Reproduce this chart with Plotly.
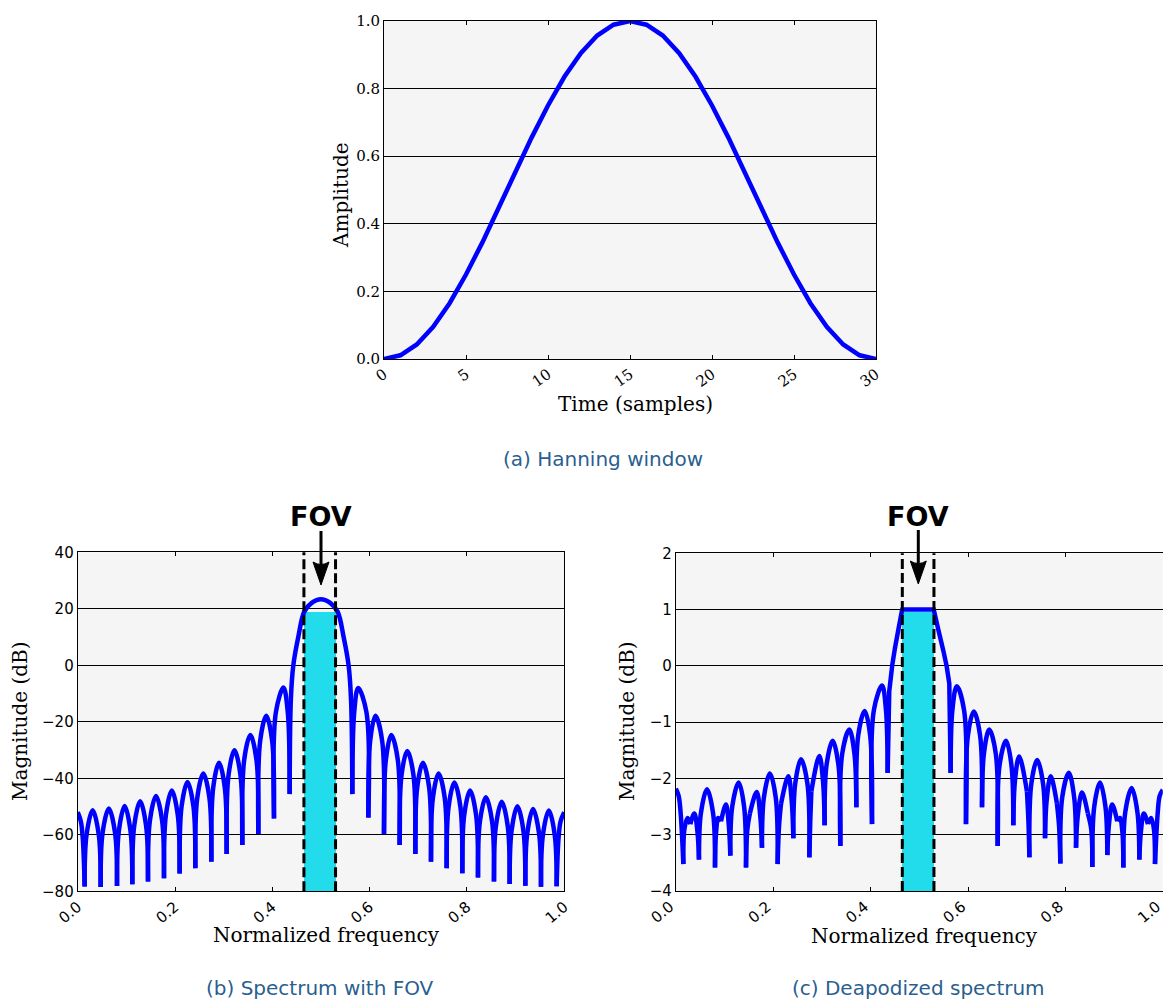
import plotly.graph_objects as go

W, H = 1163, 1003

# ---------------------------------------------------------------- data
# (a) Hanning window, 31 samples
win_n = list(range(31))
win_amp = [0.0, 0.011, 0.043, 0.095, 0.165, 0.25, 0.345, 0.448, 0.552, 0.655,
           0.75, 0.835, 0.905, 0.957, 0.989, 1.0, 0.989, 0.957, 0.905, 0.835,
           0.75, 0.655, 0.552, 0.448, 0.345, 0.25, 0.165, 0.095, 0.043, 0.011, 0.0]

# (b) spectrum in dB; each lobe runs null -> shoulder -> peak -> shoulder -> null,
# lobes separated by None so the nulls stay sharp
spec_freq = [
    0.0, 0.0065, 0.0105, 0.0143, None,
    0.0143, 0.0182, 0.0308, 0.0433, 0.0472, None,
    0.0472, 0.0511, 0.0640, 0.0769, 0.0808, None,
    0.0808, 0.0847, 0.0965, 0.1084, 0.1123, None,
    0.1123, 0.1162, 0.1284, 0.1406, 0.1445, None,
    0.1445, 0.1484, 0.1610, 0.1735, 0.1774, None,
    0.1774, 0.1813, 0.1935, 0.2057, 0.2096, None,
    0.2096, 0.2135, 0.2257, 0.2379, 0.2418, None,
    0.2418, 0.2457, 0.2582, 0.2708, 0.2747, None,
    0.2747, 0.2786, 0.2905, 0.3023, 0.3062, None,
    0.3062, 0.3101, 0.3223, 0.3345, 0.3384, None,
    0.3384, 0.3423, 0.3550, 0.3674, 0.3713, None,
    0.3713, 0.3752, 0.3877, 0.3996, 0.4035, None,
    0.4035, 0.4074, 0.4230, 0.4318, 0.4357, None,
    0.4357, 0.4382, 0.4432, 0.4535, 0.4658, 0.4810, 0.5000,
    0.5190, 0.5342, 0.5465, 0.5568, 0.5618, 0.5645, None,
    0.5645, 0.5684, 0.5765, 0.5935, 0.5974, None,
    0.5974, 0.6013, 0.6120, 0.6257, 0.6296, None,
    0.6296, 0.6335, 0.6445, 0.6579, 0.6618, None,
    0.6618, 0.6657, 0.6775, 0.6901, 0.6940, None,
    0.6940, 0.6979, 0.7095, 0.7223, 0.7262, None,
    0.7262, 0.7301, 0.7418, 0.7545, 0.7584, None,
    0.7584, 0.7623, 0.7743, 0.7867, 0.7906, None,
    0.7906, 0.7945, 0.8065, 0.8189, 0.8228, None,
    0.8228, 0.8267, 0.8390, 0.8518, 0.8557, None,
    0.8557, 0.8596, 0.8716, 0.8840, 0.8879, None,
    0.8879, 0.8918, 0.9038, 0.9162, 0.9201, None,
    0.9201, 0.9240, 0.9360, 0.9484, 0.9523, None,
    0.9523, 0.9562, 0.9685, 0.9806, 0.9845, None,
    0.9845, 0.9883, 0.9925, 1.0,
]
spec_db = [
    -52.0, -55.3, -61.4, -78.3, None,
    -78.3, -60.0, -51.3, -60.0, -78.5, None,
    -78.5, -59.4, -50.7, -59.4, -78.1, None,
    -78.1, -58.5, -49.8, -58.5, -77.5, None,
    -77.5, -56.8, -48.1, -56.8, -76.5, None,
    -76.5, -55.0, -46.3, -55.0, -75.4, None,
    -75.4, -53.0, -44.3, -53.0, -73.7, None,
    -73.7, -50.0, -41.3, -50.0, -71.8, None,
    -71.8, -47.0, -38.3, -47.0, -69.5, None,
    -69.5, -43.2, -34.5, -43.2, -66.8, None,
    -66.8, -38.8, -30.1, -38.8, -63.6, None,
    -63.6, -33.4, -24.7, -33.4, -59.7, None,
    -59.7, -26.6, -17.9, -26.6, -54.2, None,
    -54.2, -16.6, -7.9, -16.6, -45.6, None,
    -45.6, -12.0, 0.0, 10.1, 19.0, 22.1, 23.4,
    22.1, 19.0, 10.1, 0.0, -12.0, -45.6, None,
    -45.6, -16.6, -8.0, -16.6, -53.9, None,
    -53.9, -26.6, -17.9, -26.6, -59.7, None,
    -59.7, -33.4, -24.7, -33.4, -63.6, None,
    -63.6, -38.8, -30.3, -38.8, -66.8, None,
    -66.8, -43.2, -34.5, -43.2, -69.5, None,
    -69.5, -47.0, -38.3, -47.0, -71.8, None,
    -71.8, -50.2, -41.5, -50.2, -73.6, None,
    -73.6, -53.0, -44.3, -53.0, -75.1, None,
    -75.1, -55.4, -46.7, -55.4, -76.5, None,
    -76.5, -57.0, -48.3, -57.0, -77.4, None,
    -77.4, -58.6, -49.9, -58.6, -78.0, None,
    -78.0, -59.6, -50.9, -59.6, -78.4, None,
    -78.4, -60.1, -51.4, -60.1, -78.2, None,
    -78.2, -61.4, -55.3, -52.0,
]

# (c) deapodized spectrum: side lobes (spline pieces) ...
deap_freq = [
    0.0, 0.0057, 0.0098, 0.0153, None,
    0.0153, 0.0178, 0.0242, 0.0296, None,
    0.0296, 0.0379, 0.0443, 0.0474, None,
    0.0474, 0.0513, 0.0639, 0.0764, 0.0803, None,
    0.0803, 0.0826, 0.0870, 0.0926, None,
    0.0926, 0.1029, 0.1088, 0.1118, None,
    0.1118, 0.1157, 0.1289, 0.1401, 0.1440, None,
    0.1440, 0.1468, 0.1520, None,
    0.1520, 0.1660, 0.1733, 0.1768, None,
    0.1768, 0.1807, 0.1930, 0.2051, 0.2090, None,
    0.2090, 0.2118, 0.2159, None,
    0.2159, 0.2309, 0.2378, 0.2412, None,
    0.2412, 0.2451, 0.2569, 0.2701, 0.2740, None,
    0.2740, 0.2760, 0.2782, None,
    0.2782, 0.2946, 0.3020, 0.3055, None,
    0.3055, 0.3094, 0.3220, 0.3338, 0.3377, None,
    0.3377, 0.3416, 0.3562, 0.3667, 0.3706, None,
    0.3706, 0.3745, 0.3877, 0.3989, 0.4028, None,
    0.4028, 0.4067, 0.4235, 0.4314, 0.4349, None,
    0.5643, 0.5678, 0.5768, 0.5919, 0.5958, None,
    0.5958, 0.5997, 0.6120, 0.6248, 0.6287, None,
    0.6287, 0.6326, 0.6435, 0.6570, 0.6609, None,
    0.6609, 0.6648, 0.6780, 0.6891, 0.6930, None,
    0.6930, 0.6965, 0.7050, 0.7210, None,
    0.7210, 0.7240, 0.7260, None,
    0.7260, 0.7299, 0.7420, 0.7542, 0.7581, None,
    0.7581, 0.7615, 0.7697, 0.7825, None,
    0.7825, 0.7870, 0.7896, None,
    0.7896, 0.7935, 0.8070, 0.8179, 0.8218, None,
    0.8218, 0.8253, 0.8340, 0.8460, None,
    0.8460, 0.8530, 0.8553, None,
    0.8553, 0.8592, 0.8711, 0.8822, 0.8861, None,
    0.8861, 0.8891, 0.8960, 0.9065, None,
    0.9065, 0.9120, 0.9170, 0.9190, None,
    0.9190, 0.9229, 0.9361, 0.9479, 0.9518, None,
    0.9518, 0.9550, 0.9610, 0.9695, None,
    0.9695, 0.9758, 0.9815, 0.9840, None,
    0.9840, 0.9895, 0.9936, 1.0,
]
deap_db = [
    -2.18, -2.31, -2.62, -3.52, None,
    -3.52, -2.88, -2.70, -2.81, None,
    -2.81, -2.62, -2.95, -3.44, None,
    -3.44, -2.62, -2.19, -2.62, -3.58, None,
    -3.58, -2.95, -2.70, -2.76, None,
    -2.76, -2.46, -2.85, -3.37, None,
    -3.37, -2.50, -2.07, -2.50, -3.58, None,
    -3.58, -2.90, -2.62, None,
    -2.62, -2.24, -2.67, -3.23, None,
    -3.23, -2.34, -1.91, -2.34, -3.52, None,
    -3.52, -2.85, -2.45, None,
    -2.45, -1.96, -2.39, -3.06, None,
    -3.06, -2.09, -1.66, -2.09, -3.40, None,
    -3.40, -2.75, -2.23, None,
    -2.23, -1.60, -2.03, -2.83, None,
    -2.83, -1.76, -1.33, -1.76, -3.20, None,
    -3.20, -1.56, -1.13, -1.56, -2.51, None,
    -2.51, -1.23, -0.80, -1.23, -2.81, None,
    -2.81, -0.78, -0.35, -0.78, -1.90, None,
    -1.90, -0.79, -0.36, -0.79, -2.81, None,
    -2.81, -1.24, -0.81, -1.24, -2.51, None,
    -2.51, -1.56, -1.13, -1.56, -3.20, None,
    -3.20, -1.76, -1.33, -1.76, -2.83, None,
    -2.83, -2.03, -1.61, -2.23, None,
    -2.23, -2.75, -3.40, None,
    -3.40, -2.10, -1.67, -2.10, -3.06, None,
    -3.06, -2.39, -1.96, -2.44, None,
    -2.44, -2.85, -3.51, None,
    -3.51, -2.33, -1.90, -2.33, -3.23, None,
    -3.23, -2.67, -2.25, -2.62, None,
    -2.62, -2.90, -3.57, None,
    -3.57, -2.50, -2.07, -2.50, -3.36, None,
    -3.36, -2.85, -2.46, -2.76, None,
    -2.76, -2.70, -2.95, -3.58, None,
    -3.58, -2.60, -2.17, -2.60, -3.44, None,
    -3.44, -2.95, -2.62, -2.81, None,
    -2.81, -2.70, -2.88, -3.52, None,
    -3.52, -2.62, -2.31, -2.20,
]
# ... and the clipped main lobe (straight pieces)
deap_main_freq = [0.4349, 0.4382, 0.4415, 0.4445, 0.4500, 0.4568, 0.4640, 0.4650,
                  0.5295, 0.5390, 0.5490, 0.5560, 0.5615, 0.5643]
deap_main_db = [-1.90, -0.45, -0.20, 0.02, 0.32, 0.64, 0.97, 1.0,
                1.0, 0.64, 0.28, 0.0, -0.31, -1.90]

# field of view band
fov_lo, fov_hi = 0.465, 0.530
fov_fill_db = 18.6      # top of the shaded band in (b)
fov_fill_deap = 0.945   # top of the shaded band in (c)

win_xticks = [0, 5, 10, 15, 20, 25, 30]
win_yticks = [0.0, 0.2, 0.4, 0.6, 0.8, 1.0]
freq_ticks = [0.0, 0.2, 0.4, 0.6, 0.8, 1.0]
db_ticks = [-80, -60, -40, -20, 0, 20, 40]
deap_ticks = [-4, -3, -2, -1, 0, 1, 2]

# ---------------------------------------------------------------- styling
BLUE = "#0000ff"
CYAN = "#22dcec"
BG = "#f5f5f5"
SERIF = "DejaVu Serif"
SANS = "DejaVu Sans"
CAPTION = "#2a5f8f"
LW = 4.5


def px_x(p):
    return p / W


def px_y(p):
    return 1 - p / H


fig = go.Figure()

fig.add_trace(go.Scatter(x=win_n, y=win_amp, mode="lines",
                         line=dict(color=BLUE, width=LW), xaxis="x", yaxis="y"))

fig.add_trace(go.Bar(x=[(fov_lo + fov_hi) / 2], y=[fov_fill_db + 80], base=[-80],
                     width=[fov_hi - fov_lo], marker=dict(color=CYAN, line=dict(width=0)),
                     xaxis="x2", yaxis="y2"))
fig.add_trace(go.Scatter(x=spec_freq, y=spec_db, mode="lines", connectgaps=False,
                         line=dict(color=BLUE, width=LW, shape="spline", smoothing=1.0,
                                   simplify=False),
                         xaxis="x2", yaxis="y2"))

fig.add_trace(go.Bar(x=[(fov_lo + fov_hi) / 2], y=[fov_fill_deap + 4], base=[-4],
                     width=[fov_hi - fov_lo], marker=dict(color=CYAN, line=dict(width=0)),
                     xaxis="x3", yaxis="y3"))
fig.add_trace(go.Scatter(x=deap_freq, y=deap_db, mode="lines", connectgaps=False,
                         line=dict(color=BLUE, width=LW, shape="spline", smoothing=1.0,
                                   simplify=False),
                         xaxis="x3", yaxis="y3"))
fig.add_trace(go.Scatter(x=deap_main_freq, y=deap_main_db, mode="lines",
                         line=dict(color=BLUE, width=LW, simplify=False),
                         xaxis="x3", yaxis="y3"))

frame = dict(showline=True, linecolor="black", linewidth=1, mirror="ticks",
             ticks="inside", ticklen=4, tickcolor="black", tickwidth=1,
             zeroline=False, fixedrange=True, automargin=False,
             ticklabeloverflow="allow")
grid = dict(showgrid=True, gridcolor="black", gridwidth=1)

layout = dict(
    width=W, height=H, margin=dict(l=0, r=0, t=0, b=0, autoexpand=False),
    paper_bgcolor="white", plot_bgcolor=BG, showlegend=False, bargap=0,
    xaxis=dict(frame, domain=[px_x(384), px_x(876)], range=[0, 30], anchor="y",
               tickvals=win_xticks, tickangle=-35, showgrid=False,
               tickfont=dict(family=SERIF, size=15, color="black")),
    yaxis=dict(frame, **grid, domain=[px_y(359), px_y(21)], range=[0, 1], anchor="x",
               tickvals=win_yticks, ticktext=[f"{v:.1f}" for v in win_yticks],
               tickfont=dict(family=SERIF, size=15, color="black")),
    xaxis2=dict(frame, domain=[px_x(77.7), px_x(564.2)], range=[0, 1.00001], anchor="y2",
                tickvals=freq_ticks, ticktext=[f"{v:.1f}" for v in freq_ticks],
                tickangle=-40, showgrid=False,
                tickfont=dict(family=SANS, size=15, color="black")),
    yaxis2=dict(frame, **grid, domain=[px_y(891.3), px_y(552.3)], range=[-80, 40],
                anchor="x2", tickvals=db_ticks,
                ticktext=[str(v).replace("-", "\u2212") for v in db_ticks],
                tickfont=dict(family=SANS, size=15, color="black")),
    xaxis3=dict(frame, domain=[px_x(675.9), px_x(1162.8)], range=[0, 1.00001], anchor="y3",
                tickvals=freq_ticks, ticktext=[f"{v:.1f}" for v in freq_ticks],
                tickangle=-40, showgrid=False, ticklabelshift=-6,
                tickfont=dict(family=SANS, size=15, color="black")),
    yaxis3=dict(frame, **grid, domain=[px_y(891.1), px_y(553.3)], range=[-4, 2],
                anchor="x3", tickvals=deap_ticks,
                ticktext=[str(v).replace("-", "\u2212") for v in deap_ticks],
                tickfont=dict(family=SANS, size=15, color="black")),
)
fig.update_layout(**layout)

# FOV boundaries (dashed) and the arrows pointing at the band
shapes = []
for xr, yr in (("x2", "y2"), ("x3", "y3")):
    for xv in (fov_lo, fov_hi):
        shapes.append(dict(type="line", xref=xr, yref=f"{yr} domain", x0=xv, x1=xv,
                           y0=0, y1=1, layer="above",
                           line=dict(color="black", width=3, dash="10px,4px")))
for tip_x, tip_y in ((321, 585), (918.3, 584)):
    shapes.append(dict(type="path", xref="paper", yref="paper",
                       xsizemode="pixel", ysizemode="pixel",
                       xanchor=px_x(tip_x), yanchor=px_y(tip_y), layer="above",
                       path="M 0,0 L -8,23 Q 0,18 8,23 Z",
                       fillcolor="black", line=dict(color="black", width=1)))
    shapes.append(dict(type="line", xref="paper", yref="paper",
                       xsizemode="pixel", ysizemode="pixel",
                       xanchor=px_x(tip_x), yanchor=px_y(tip_y),
                       x0=0, x1=0, y0=19, y1=54, layer="above",
                       line=dict(color="black", width=3)))
fig.update_layout(shapes=shapes)

ann = []


def text(x, y, s, size, family, angle=0, color="black"):
    ann.append(dict(x=px_x(x), y=px_y(y), xref="paper", yref="paper", text=s,
                    showarrow=False, textangle=angle, xanchor="center", yanchor="middle",
                    font=dict(family=family, size=size, color=color)))


text(341, 195, "Amplitude", 20, SERIF, -90)
text(635, 404, "Time (samples)", 20, SERIF)
text(20, 721, "Magnitude (dB)", 20, SERIF, -90)
text(326, 935, "Normalized frequency", 20, SERIF)
text(627, 721, "Magnitude (dB)", 20, SERIF, -90)
text(924, 936, "Normalized frequency", 20, SERIF)
text(321, 516, "<b>FOV</b>", 27, SANS)
text(918, 516, "<b>FOV</b>", 27, SANS)
text(603, 459, "(a) Hanning window", 20, SANS, color=CAPTION)
text(320, 988, "(b) Spectrum with FOV", 20, SANS, color=CAPTION)
text(918, 988, "(c) Deapodized spectrum", 20, SANS, color=CAPTION)
fig.update_layout(annotations=ann)

fig.write_html("out.html")
